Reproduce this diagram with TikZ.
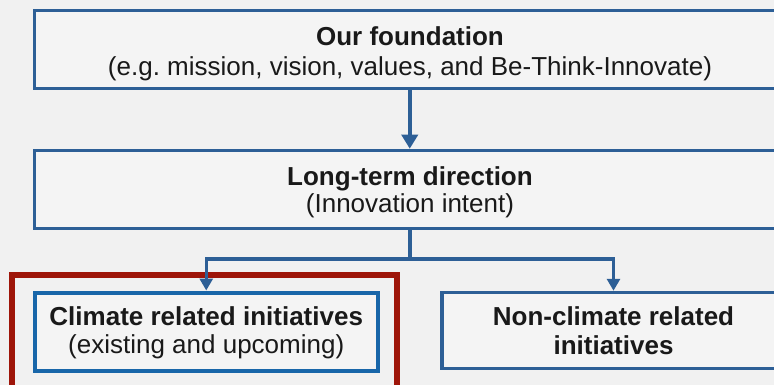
\documentclass[tikz,border=0pt]{standalone}
\usepackage{fontspec}
\setmainfont{Liberation Sans}
\usetikzlibrary{arrows.meta}
\frenchspacing
\definecolor{bgc}{HTML}{F1F1F1}
\definecolor{boxfill}{HTML}{F4F4F4}
\definecolor{steel}{HTML}{2D5F96}
\definecolor{brightblue}{HTML}{1866A9}
\definecolor{darkred}{HTML}{9E1509}
\tikzset{
  box/.style={draw=steel, line width=3.5pt, fill=boxfill, rectangle, inner sep=0pt, line join=miter},
  climbox/.style={draw=brightblue, line width=4pt, fill=boxfill, rectangle, inner sep=0pt},
  focusbox/.style={draw=darkred, line width=6pt, rectangle, inner sep=0pt},
  lbl/.style={font=\fontsize{26}{30}\selectfont, align=center, inner sep=0pt, anchor=north, text=black!90},
  conn/.style={draw=steel, line width=4pt},
  arr/.style={conn, -{Triangle[width=16pt,length=14pt]}},
}
\begin{document}
\begin{tikzpicture}[x=1pt,y=-1pt]
\useasboundingbox (0,0) rectangle (774,385);
\clip (0,0) rectangle (774,385);
\fill[bgc] (0,0) rectangle (774,385);
% boxes
\node[box, minimum width=750.5pt, minimum height=78pt] (found) at (409.75,49.5) {};
\node[box, minimum width=750.5pt, minimum height=78pt] (dir) at (409.75,189.5) {};
\node[focusbox, minimum width=385pt, minimum height=140pt] (focus) at (204.25,344.5) {};
\node[climbox, minimum width=343.5pt, minimum height=78pt] (clim) at (206.25,331.5) {};
\node[box, minimum width=343pt, minimum height=76pt] (noncl) at (613.5,330.5) {};
% texts
\node[lbl] (foundT) at (410,26) {\textbf{Our foundation}\\(e.g. mission, vision, values, and Be-Think-Innovate)};
\node[lbl, font=\fontsize{26}{27}\selectfont] (dirT) at (410,166) {\textbf{Long-term direction}\\(Innovation intent)};
\node[lbl, font=\fontsize{26}{28}\selectfont] (climT) at (206.25,306) {\textbf{Climate related initiatives}\\(existing and upcoming)};
\node[lbl, font=\fontsize{26}{29}\selectfont] (nonclT) at (613.5,306) {\textbf{Non-climate related}\\\textbf{initiatives}};
% connectors
\coordinate (jn) at (409.75,259);
\draw[arr] (found.south) -- (dir.north);
\draw[conn] (dir.south) -- (jn);
\draw[arr, -{Triangle[width=13pt,length=12pt]}, line width=3.5pt] (jn) -| (clim.north);
\draw[arr, -{Triangle[width=13pt,length=12pt]}, line width=3.5pt] (jn) -| (noncl.north);
\end{tikzpicture}
\end{document}
